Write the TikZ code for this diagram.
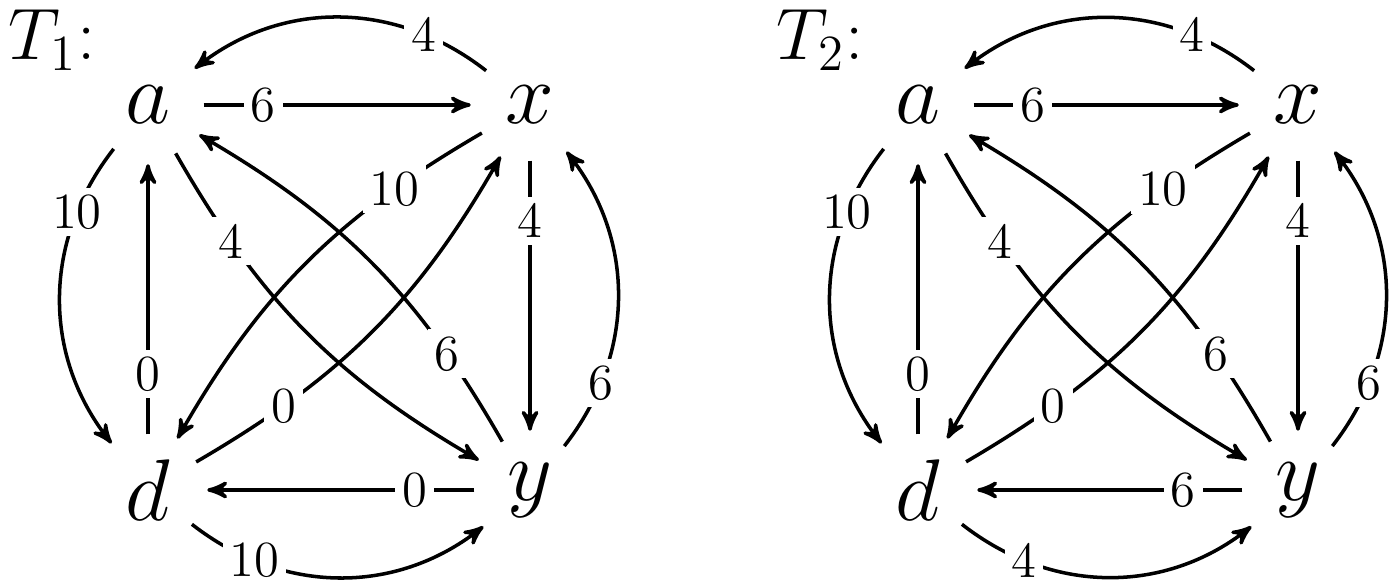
\documentclass[tikz,border=0pt]{standalone}
\usepackage{amsmath,amssymb}
\usetikzlibrary{arrows}

\begin{document}
\begin{tikzpicture}[x=0.01cm, y=-0.01cm, inner sep=0pt]

    \tikzstyle{vert}=[circle, minimum size=11mm, font=\Huge]
    \tikzstyle{e}=[->, shorten >=1pt, >=stealth', line width=1pt]
    \tikzstyle{w}=[fill=white, inner sep=2pt, font=\Large, pos=0.22]

    \useasboundingbox (0,0) rectangle (1400,586);

    \node[font=\huge] (t1) at (52,40) {$T_1$:};
    \node[vert] (a1) at (148,105) {$a$}; \node[vert] (x1) at (530,105) {$x$};
    \node[vert] (d1) at (148,490) {$d$}; \node[vert] (y1) at (530,490) {$y$};

    \draw[e] (a1) to node[w] {6} (x1);
    \draw[e] (x1) to node[w] {4} (y1);
    \draw[e] (y1) to node[w] {0} (d1);
    \draw[e] (d1) to node[w] {0} (a1);
    \draw[e] (x1) to[bend right=38] node[w] {4} (a1);
    \draw[e] (a1) to[bend right=38] node[w] {10} (d1);
    \draw[e] (d1) to[bend right=38] node[w] {10} (y1);
    \draw[e] (y1) to[bend right=38] node[w] {6} (x1);
    \draw[e] (a1) to[bend right=15] node[w] {4} (y1);
    \draw[e] (y1) to[bend right=15] node[w] {6} (a1);
    \draw[e] (x1) to[bend right=15] node[w] {10} (d1);
    \draw[e] (d1) to[bend right=15] node[w] {0} (x1);

    \node[font=\huge] (t2) at (820,40) {$T_2$:};
    \node[vert] (a2) at (918,105) {$a$}; \node[vert] (x2) at (1298,105) {$x$};
    \node[vert] (d2) at (918,490) {$d$}; \node[vert] (y2) at (1298,490) {$y$};

    \draw[e] (a2) to node[w] {6} (x2);
    \draw[e] (x2) to node[w] {4} (y2);
    \draw[e] (y2) to node[w] {6} (d2);
    \draw[e] (d2) to node[w] {0} (a2);
    \draw[e] (x2) to[bend right=38] node[w] {4} (a2);
    \draw[e] (a2) to[bend right=38] node[w] {10} (d2);
    \draw[e] (d2) to[bend right=38] node[w] {4} (y2);
    \draw[e] (y2) to[bend right=38] node[w] {6} (x2);
    \draw[e] (a2) to[bend right=15] node[w] {4} (y2);
    \draw[e] (y2) to[bend right=15] node[w] {6} (a2);
    \draw[e] (x2) to[bend right=15] node[w] {10} (d2);
    \draw[e] (d2) to[bend right=15] node[w] {0} (x2);
  \end{tikzpicture}
\end{document}
